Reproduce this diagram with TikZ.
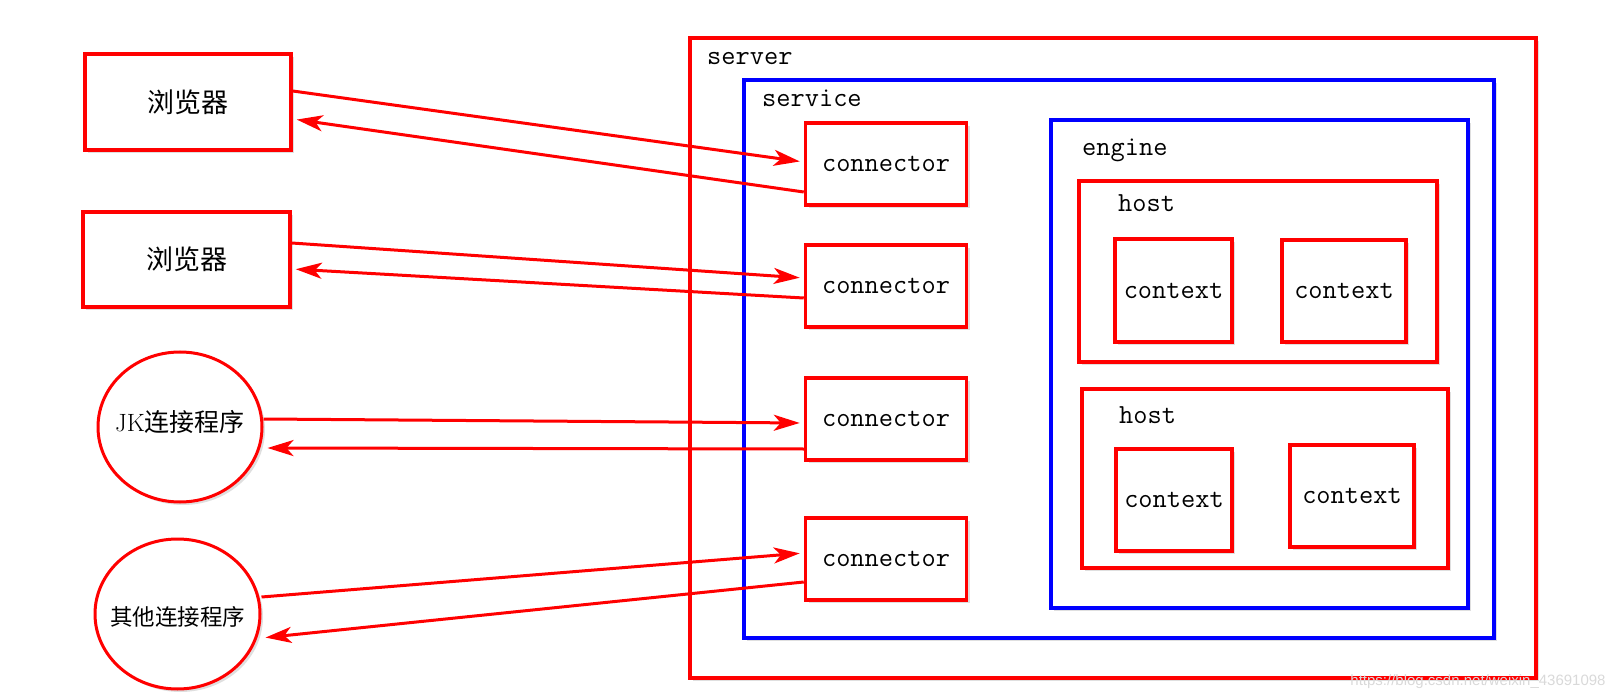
\documentclass[tikz,border=0pt]{standalone}
\usepackage{fontspec}
\newfontfamily\cjk{Noto Sans CJK SC}
\newfontfamily\wmfont{Liberation Sans}
\usetikzlibrary{arrows.meta,shapes.geometric,shadows}

\tikzset{
  redbox/.style={draw=red,line width=3.5pt,fill=white,inner sep=0pt,
    drop shadow={opacity=0.25,shadow xshift=3pt,shadow yshift=-3pt},
    font=\fontsize{27.6}{30}\selectfont\ttfamily},
  bluebox/.style={redbox,draw=blue},
  client/.style={redbox,ellipse,line width=3pt,minimum width=164pt,minimum height=150pt},
  tag/.style={anchor=base west,inner sep=0pt,font=\fontsize{27.6}{30}\selectfont\ttfamily},
  link/.style={red,line width=3pt,shorten >=4pt,-{Stealth[length=26pt,width=16pt,inset=7pt]}},
}

\begin{document}
\begin{tikzpicture}[x=1pt,y=-1pt]
\useasboundingbox (0,0) rectangle (1624,700);

% clients
\node[redbox,minimum width=206pt,minimum height=96pt,font=\fontsize{27}{29}\selectfont\cjk] (b1) at (188,102) {浏览器};
\node[redbox,minimum width=207pt,minimum height=95pt,font=\fontsize{27}{29}\selectfont\cjk] (b2) at (186.5,259.5) {浏览器};
\node[client,label={[font=\fontsize{25}{27}\selectfont\cjk,yshift=5pt]center:{\rmfamily JK}连接程序}] (jk) at (180,427) {};
\node[client,minimum width=165pt,label={[font=\fontsize{22.5}{25}\selectfont\cjk,yshift=-3pt]center:其他连接程序}] (other) at (177.5,614) {};

% server side
\node[redbox,minimum width=846pt,minimum height=640pt] (server) at (1113,358) {};
\node[tag] (serverlbl) at (707,65) {server};
\node[bluebox,minimum width=750pt,minimum height=558pt] (service) at (1119,359) {};
\node[tag] (servicelbl) at (762,107) {service};
\foreach \n/\y in {1/164,2/286,3/419,4/559}
  \node[redbox,minimum width=161pt,minimum height=82pt] (c\n) at (886,\y) {connector};

\node[bluebox,minimum width=417pt,minimum height=488pt] (engine) at (1259.5,364) {};
\node[tag] (enginelbl) at (1082,156) {engine};
\node[redbox,minimum width=358pt,minimum height=181pt] (h1) at (1258,271.5) {};
\node[tag] (h1lbl) at (1118,212) {host};
\node[redbox,minimum width=366pt,minimum height=179pt] (h2) at (1265,478.5) {};
\node[tag] (h2lbl) at (1119,423) {host};
\node[redbox,minimum width=117pt,minimum height=103pt] (x1a) at (1173.5,290.5) {context};
\node[redbox,minimum width=124pt,minimum height=102pt] (x1b) at (1344,291) {context};
\node[redbox,minimum width=116pt,minimum height=102pt] (x2a) at (1174,500) {context};
\node[redbox,minimum width=124pt,minimum height=102pt] (x2b) at (1352,496) {context};

% requests and replies
\foreach \s/\t/\a/\b in {b1/c1/11/2, b2/c2/16.5/8, jk/c3/8/-4, other/c4/17/6}
  \draw[link] ([yshift=\a pt]\s.east) -- ([yshift=\b pt]\t.west);
\foreach \s/\t/\a/\b in {c1/b1/-28/-17, c2/b2/-12/-9.5, c3/jk/-30/-21, c4/other/-23/-24}
  \draw[link] ([yshift=\a pt]\s.west) -- ([yshift=\b pt]\t.east);

\node[font=\fontsize{15}{17}\selectfont\wmfont,text=gray!30,inner sep=0pt] (mark) at (1478,682) {https://blog.csdn.net/weixin\_43691098};
\end{tikzpicture}
\end{document}
